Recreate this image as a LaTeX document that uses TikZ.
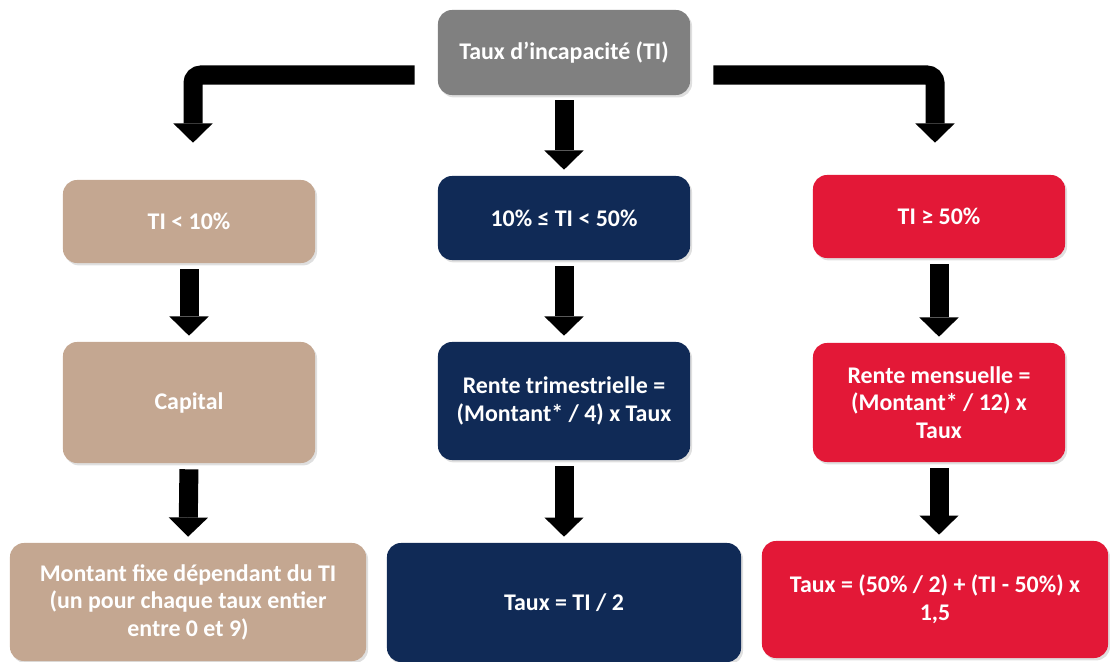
\documentclass[tikz,border=0pt]{standalone}
\usepackage{fontspec}
\setmainfont{Carlito}
\usepackage{tikz}
\usetikzlibrary{arrows.meta,shadows}

\definecolor{tigray}{HTML}{808080}
\definecolor{titan}{HTML}{C4A791}
\definecolor{tinavy}{HTML}{102A56}
\definecolor{tired}{HTML}{E31837}

\begin{document}
\begin{tikzpicture}[x=0.025cm,y=-0.025cm,
box/.style={rounded corners=0.35cm,minimum width=6.3cm,align=center,text=white,
  font=\fontsize{17}{19.6}\selectfont\bfseries,
  drop shadow={opacity=0.25,shadow xshift=0.05cm,shadow yshift=-0.06cm}},
graybox/.style={box,fill=tigray},
tanbox/.style={box,fill=titan},
navybox/.style={box,fill=tinavy},
redbox/.style={box,fill=tired},
blockarrow/.style={line width=0.475cm,black,rounded corners=0.2cm,
  -{Triangle[width=0.98cm,length=0.48cm,line width=0pt]}}
]
\useasboundingbox (0,0) rectangle (1110,662);

% The boxes
\node[graybox,minimum height=2.125cm] (top) at (564,52.5) {Taux d’incapacité (TI)};

\node[tanbox,minimum height=2.075cm] (lo1) at (189,221.5) {TI < 10\%};
\node[navybox,minimum height=2.1cm] (mid1) at (564,218) {10\% ≤ TI < 50\%};
\node[redbox,minimum height=2.075cm] (hi1) at (939,216.5) {TI ≥ 50\%};

\node[tanbox,minimum height=3.025cm] (lo2) at (189,402.5) {Capital};
\node[navybox,minimum height=2.95cm] (mid2) at (564,401) {Rente trimestrielle =\\(Montant* / 4) x Taux};
\node[redbox,minimum height=2.975cm] (hi2) at (939,402.5) {Rente mensuelle =\\(Montant* / 12) x\\Taux};

\node[tanbox,minimum width=8.9cm,minimum height=2.95cm] (lo3) at (188,602) {Montant fixe dépendant du TI\\(un pour chaque taux entier\\entre 0 et 9)};
\node[navybox,minimum width=8.85cm,minimum height=2.975cm] (mid3) at (564,602.5) {Taux = TI / 2};
\node[redbox,minimum width=8.65cm,minimum height=2.925cm] (hi3) at (935,599.5) {Taux = (50\% / 2) + (TI - 50\%) x\\1,5};

% The arrows
\draw[blockarrow] ([xshift=-0.575cm,yshift=-0.5625cm]top.west) -| ([xshift=0.1cm,yshift=0.925cm]lo1.north);
\draw[blockarrow] ([xshift=0.575cm,yshift=-0.5625cm]top.east) -| ([xshift=-0.1cm,yshift=0.8cm]hi1.north);
\draw[blockarrow,shorten <=0.125cm,shorten >=0.15cm] (top) -- (mid1);

\foreach \a/\b in {lo1/lo2,mid1/mid2,hi1/hi2,lo2/lo3,mid2/mid3}
  \draw[blockarrow,shorten <=0.15cm,shorten >=0.15cm] (\a.south) -- (\b.north);
\draw[blockarrow,shorten <=0.15cm,shorten >=0.15cm] (hi2.south) -- (hi2.south |- hi3.north);
\end{tikzpicture}
\end{document}
